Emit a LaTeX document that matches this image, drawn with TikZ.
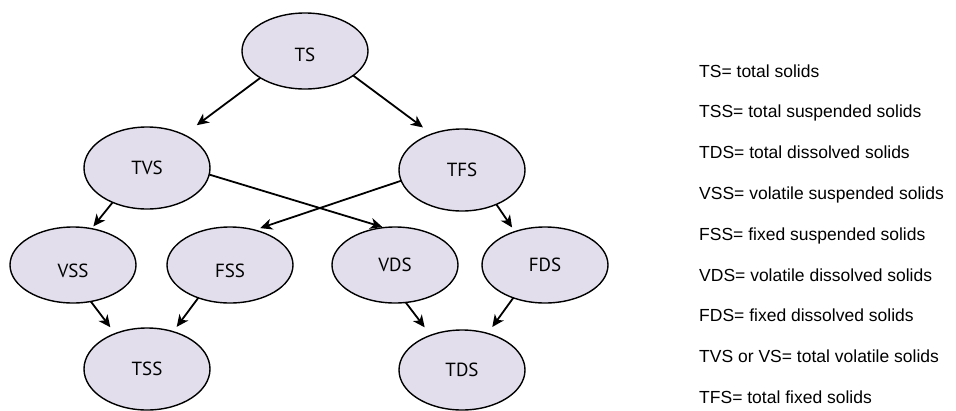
\documentclass[tikz,border=0pt]{standalone}
\usepackage{fontspec}
\setmainfont{Liberation Sans}
\newfontfamily\nodefont{PT Sans}
\usetikzlibrary{arrows.meta}
\usetikzlibrary{shapes.geometric}
\definecolor{solidfill}{RGB}{226,222,236}
\tikzset{
  solid/.style={ellipse, draw, line width=1.4pt, fill=solidfill, inner sep=0pt, outer sep=0pt,
    minimum width=126pt, minimum height=76pt, font=\nodefont\fontsize{19}{19}\selectfont},
  tall/.style={minimum height=82pt},
  low/.style={text height=#1, text depth=0pt},
  flow/.style={-{Stealth[length=12pt,width=11pt,inset=3.5pt]}, line width=1.8pt},
  legend/.style={anchor=base west, inner sep=0pt, font=\fontsize{17.5}{17.5}\selectfont}
}

\begin{document}
\begin{tikzpicture}[x=1pt, y=-1pt]
\useasboundingbox (0,0) rectangle (956,410);

% the solids tree
\node[solid, low=21pt] (TS) at (305,51) {TS};
\node[solid, tall] (TVS) at (147,168) {TVS};
\node[solid, tall] (TFS) at (462,170) {TFS};
\node[solid, low=25pt] (VSS) at (73,265) {VSS};
\node[solid, low=25pt] (FSS) at (230,265) {FSS};
\node[solid] (VDS) at (395,265) {VDS};
\node[solid] (FDS) at (545,265) {FDS};
\node[solid, tall] (TSS) at (147,369) {TSS};
\node[solid, tall, minimum height=80pt] (TDS) at (462,370) {TDS};

%%% split into volatile / fixed
\draw[flow, shorten >=16pt] (TS.211) -- (TVS.42);
\draw[flow, shorten >=11pt] (TS.-27) -- (TFS.130);
\draw[flow, shorten >=3pt] (TVS.225) -- (VSS.63);
\draw[flow, shorten >=2pt] (TVS.-6) -- (VDS.106);
\draw[flow, shorten >=6pt] (TFS.190) -- (FSS.55);
\draw[flow, shorten >=5pt] (TFS.-45) -- (FDS.132);

%%% recombine into suspended / dissolved
\draw[flow, shorten >=8pt] (VSS.-64) -- (TSS.132);
\draw[flow, shorten >=6pt] (FSS.226) -- (TSS.55);
\draw[flow, shorten >=10pt] (VDS.-74) -- (TDS.132);
\draw[flow, shorten >=8pt] (FDS.226) -- (TDS.55);

% abbreviations
\foreach \t [count=\i] in {TS= total solids, TSS= total suspended solids, TDS= total dissolved solids,
    VSS= volatile suspended solids, FSS= fixed suspended solids, VDS= volatile dissolved solids,
    FDS= fixed dissolved solids, TVS or VS= total volatile solids, TFS= total fixed solids}
  \node[legend] (abbr\i) at (699, {77+40.8*(\i-1)}) {\t};

\end{tikzpicture}
\end{document}
